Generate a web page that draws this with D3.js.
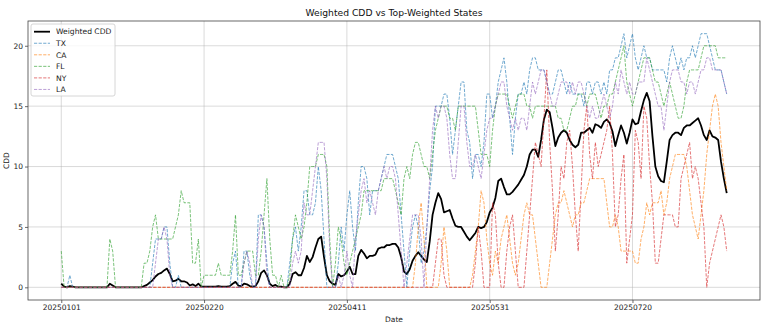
<!DOCTYPE html>
<html><head><meta charset="utf-8">
<script src="https://cdn.jsdelivr.net/npm/d3@7"></script>
<style>html,body{margin:0;padding:0;background:#fff;}svg{display:block;}</style>
</head><body>
<svg id="chart" width="772" height="325"></svg>
<script>
// ---- data ----
const startDate = "20250101";
const nDays = 234;
const tickLabels = ["20250101","20250220","20250411","20250531","20250720"];
const yTicks = [0,5,10,15,20];
const seriesNames = ["TX","CA","FL","NY","LA"];
const seriesColors = ["#1f77b4","#ff7f0e","#2ca02c","#d62728","#9467bd"];

const weighted = [0.3,0.05,0,0.1,0.05,0,0,0,0,0,0,0,0,0,0,0,0,0.3,0.15,0,
0,0,0,0,0,0,0,0,0,0.1,0.2,0.4,0.6,0.9,1.1,1.2,1.4,1.55,1.1,0.5,
0.55,0.7,0.5,0.5,0.4,0.15,0.25,0.1,0.3,0.05,0.05,0.05,0.05,0.05,0.05,0.1,0.05,0.05,0.05,0.1,
0.3,0.45,0.15,0.1,0.3,0.25,0.1,0.05,0.1,0.5,1.2,1.4,1.0,0.3,0.1,0.2,0.05,0.05,0,0,
0.3,1.1,1.25,1.0,1.0,1.6,2.6,2.1,2.5,3.3,4.0,4.2,2.5,1.0,0.5,0.3,0.2,1.1,0.9,1.0,
1.3,1.7,1.1,1.1,2.6,3.1,2.8,2.4,2.6,2.6,2.7,3.2,3.3,3.3,3.5,3.5,3.6,3.6,3.3,2.5,
1.3,1.1,1.5,2.2,2.6,2.9,2.6,2.3,2.1,3.8,6.0,7.0,7.8,7.3,6.2,6.3,6.4,5.7,5.1,5.0,
5.0,4.6,4.2,3.9,4.2,4.5,5.0,4.9,5.0,5.4,6.2,6.6,7.4,8.8,9.0,8.3,7.7,7.7,7.9,8.2,
8.5,8.9,9.3,10.0,11.0,11.4,11.4,10.8,12.2,13.9,14.7,14.5,13.2,11.7,12.4,12.8,13.0,12.8,12.2,11.8,
11.6,11.8,12.8,12.8,13.0,13.2,12.8,13.5,13.4,13.2,13.7,13.9,13.6,12.9,11.7,12.6,13.4,12.8,11.9,12.8,
13.9,13.5,13.6,14.6,15.5,16.1,15.4,12.5,10.0,9.2,8.8,8.7,10.4,12.2,12.6,12.8,12.8,12.6,13.2,13.4,
13.4,13.6,13.8,14.0,13.4,12.6,12.2,13.0,12.5,12.4,12.2,10.4,9.0,7.8];

const TX = [0,0,0,1,0,0,0,0,0,0,0,0,0,0,0,0,0,0,0,0,
0,0,0,0,0,0,0,0,0,0,0,0,2,4,4,4,5,5,2,0,
0,1,0,0,0,0,0,0,0,0,0,0,0,0,0,0,0,0,0,0,
2,3,0,0,3,3,1,0,0,6,6,5,2,0,0,0,0,0,0,0,
2,4,5,3,5,8,8,6,6,7,10,8,4,0,0,0,0,2,5,3,
6,8,5,3,7,10,10,9,6,8,8,8,9,10,11,11,11,10,9,6,
3,0,3,5,6,5,2,3,5,8,10,15,15,15,16,16,14,11,13,15,
17,17,13,12,9,11,11,10,12,16,16,14,15,17,18,19,17,14,11,14,
16,16,17,16,18,19,19,18,18,18,17,16,16,17,18,18,17,16,17,16,
16,16,16,15,17,17,16,17,17,16,17,16,18,18,19,19,20,21,19,20,
21,19,18,19,20,19,19,18,18,18,18,18,17,19,20,19,18,19,18,19,
19,20,19,20,21,21,21,20,19,18,18,18,17,16];

const CA = [0,0,0,0,0,0,0,0,0,0,0,0,0,0,0,0,0,0,0,0,
0,0,0,0,0,0,0,0,0,0,0,0,0,0,0,0,0,0,0,0,
0,0,0,0,0,0,0,0,0,0,0,0,0,0,0,0,0,0,0,0,
0,0,0,0,0,0,0,0,0,0,0,0,0,0,0,0,0,0,0,0,
0,0,0,0,0,0,0,0,0,0,0,0,0,0,0,0,0,0,0,0,
0,0,0,0,0,0,0,0,0,0,0,0,0,0,0,0,0,0,0,0,
0,0,0,0,2,5,7,4,0,0,0,0,0,2,5,3,0,0,0,0,
0,0,0,0,1,3,5,8,7,4,2,1,3,2,4,5,6,4,2,1,
2,4,6,7,6,6,4,2,0,0,0,2,4,6,7,7,8,7,6,5,
6,6,7,7,8,9,9,9,9,9,9,7,5,5,6,5,3,3,3,3,
3,2,2,4,5,7,6,7,7,7,8,6,7,9,10,11,11,11,11,10,
8,6,5,4,6,8,11,13,15,16,15,12,10,8];

const FL = [3,0,0,0,0,0,0,0,0,0,0,0,0,0,0,0,0,4,3,0,
0,0,0,0,0,0,0,0,0,2,2,3,5,6,4,4,4,4,4,4,
5,6,8,7,7,7,2,2,4,0,1,1,1,1,1,2,1,1,1,1,
3,6,1,1,2,3,3,3,1,1,3,6,9,4,1,1,0,1,0,0,
1,4,6,5,4,5,7,10,10,10,11,11,11,10,4,0,2,5,4,2,
1,2,3,4,5,6,8,8,8,8,8,8,8,9,9,9,9,8,7,6,
9,10,9,11,12,12,11,10,10,9,11,13,14,15,15,15,14,14,13,15,
15,15,15,15,15,15,13,11,11,11,10,13,15,16,16,16,16,15,14,15,
16,16,16,15,15,14,15,15,15,15,15,15,15,15,14,14,13,13,14,15,
15,16,16,16,15,16,16,16,15,14,15,15,16,16,17,18,19,20,17,16,
15,16,17,18,19,19,19,18,17,17,16,15,16,17,16,15,14,14,15,17,
18,18,18,18,19,20,20,20,20,20,19,19,19,19];

const NY = [0,0,0,0,0,0,0,0,0,0,0,0,0,0,0,0,0,0,0,0,
0,0,0,0,0,0,0,0,0,0,0,0,0,0,0,0,0,0,0,0,
0,0,0,0,0,0,0,0,0,0,0,0,0,0,0,0,0,0,0,0,
0,0,0,0,0,0,0,0,0,0,0,0,0,0,0,0,0,0,0,0,
0,0,0,0,0,0,0,0,0,0,0,0,0,0,0,0,0,0,0,0,
0,0,0,0,0,0,0,0,0,0,0,0,0,0,0,0,0,0,0,0,
0,0,0,0,0,0,0,0,0,0,0,2,4,4,1,0,0,0,0,0,
0,0,0,0,0,2,5,3,0,0,0,7,6,2,0,0,3,5,6,3,
0,0,0,3,6,9,12,11,10,14,18,12,8,3,6,10,9,12,13,10,
6,3,8,13,15,11,9,12,10,11,12,13,15,11,5,6,9,11,2,4,
6,13,12,9,15,14,10,7,2,2,4,6,6,6,6,5,5,9,10,11,
12,9,10,9,7,5,0,2,3,4,5,6,5,3];

const LA = [0,0,0,0,0,0,0,0,0,0,0,0,0,0,0,0,0,0,0,0,
0,0,0,0,0,0,0,0,0,0,0,0,0,2,4,4,5,4,1,0,
0,0,0,0,0,0,0,0,0,0,0,0,0,0,0,0,0,0,0,0,
0,0,0,0,2,3,2,0,0,4,6,5,1,0,0,0,0,0,0,0,
0,2,3,2,3,7,6,6,8,10,12,12,12,9,3,0,0,1,0,1,
3,1,0,4,6,8,9,7,8,7,6,8,9,10,9,10,10,9,6,3,
0,2,4,6,6,6,4,0,5,9,13,15,14,15,15,14,11,9,9,12,
15,15,12,10,10,11,10,9,11,13,14,14,15,16,17,17,15,14,13,14,
13,14,14,13,15,17,16,17,18,18,17,16,15,15,16,17,17,17,16,17,
16,17,17,16,15,14,15,14,14,15,16,15,14,15,17,16,18,17,16,17,
16,16,17,17,17,19,18,17,16,15,15,13,15,17,18,18,18,17,17,16,
17,17,16,17,18,18,19,19,18,18,18,18,17,16];

const stateData = [TX, CA, FL, NY, LA];

// ---- layout ----
const svg = d3.select("#chart");
const m = {left: 28, right: 760, top: 21, bottom: 300};
const parse = d3.timeParse("%Y%m%d");
const fmt = d3.timeFormat("%Y%m%d");
const dates = d3.timeDay.range(parse(startDate), d3.timeDay.offset(parse(startDate), nDays)).map(fmt);

const pad = (nDays - 1) * 0.05;
const x = d3.scaleLinear().domain([-pad, nDays - 1 + pad]).range([m.left, m.right]);
const yPad = 21 * 0.05;
const y = d3.scaleLinear().domain([-yPad, 21 + yPad]).range([m.bottom, m.top]);

const font = "DejaVu Sans, sans-serif";

// grid
const gGrid = svg.append("g");
const tickIdx = tickLabels.map(t => dates.indexOf(t));
gGrid.selectAll("line.vx").data(tickIdx).join("line")
  .attr("x1", d => x(d)).attr("x2", d => x(d))
  .attr("y1", m.top).attr("y2", m.bottom)
  .attr("stroke", "#b0b0b0").attr("stroke-opacity", 0.6).attr("stroke-width", 0.8);
gGrid.selectAll("line.hy").data(yTicks).join("line")
  .attr("x1", m.left).attr("x2", m.right)
  .attr("y1", d => y(d)).attr("y2", d => y(d))
  .attr("stroke", "#b0b0b0").attr("stroke-opacity", 0.6).attr("stroke-width", 0.8);

// lines
const line = d3.line().x((d, i) => x(i)).y(d => y(d));
svg.append("clipPath").attr("id", "clip").append("rect")
  .attr("x", m.left).attr("y", m.top).attr("width", m.right - m.left).attr("height", m.bottom - m.top);
const gLines = svg.append("g").attr("clip-path", "url(#clip)");
gLines.append("path").datum(weighted).attr("d", line)
  .attr("fill", "none").attr("stroke", "#000").attr("stroke-width", 1.8)
  .attr("stroke-linejoin", "round");
stateData.forEach((s, k) => {
  gLines.append("path").datum(s).attr("d", line)
    .attr("fill", "none").attr("stroke", seriesColors[k]).attr("stroke-width", 0.9)
    .attr("stroke-opacity", 0.7).attr("stroke-dasharray", "3.2,1.4");
});

// spines
svg.append("rect").attr("x", m.left).attr("y", m.top)
  .attr("width", m.right - m.left).attr("height", m.bottom - m.top)
  .attr("fill", "none").attr("stroke", "#444").attr("stroke-width", 0.8);

// axes
const xAxis = d3.axisBottom(x).tickValues(tickIdx).tickFormat((d, i) => tickLabels[i])
  .tickSize(3).tickPadding(2);
const gx = svg.append("g").attr("transform", `translate(0,${m.bottom})`).call(xAxis);
const yAxis = d3.axisLeft(y).tickValues(yTicks).tickSize(3).tickPadding(2);
const gy = svg.append("g").attr("transform", `translate(${m.left},0)`).call(yAxis);
[gx, gy].forEach(g => {
  g.select(".domain").remove();
  g.selectAll(".tick line").attr("stroke", "#444").attr("stroke-width", 0.8);
  g.selectAll(".tick text").attr("font-family", font).attr("font-size", 7.5).attr("fill", "#222");
});

// titles
svg.append("text").attr("x", (m.left + m.right) / 2).attr("y", 16)
  .attr("text-anchor", "middle").attr("font-family", font).attr("font-size", 9.2).attr("fill", "#111")
  .text("Weighted CDD vs Top-Weighted States");
svg.append("text").attr("x", (m.left + m.right) / 2).attr("y", 322)
  .attr("text-anchor", "middle").attr("font-family", font).attr("font-size", 7.5).attr("fill", "#222")
  .text("Date");
svg.append("text").attr("transform", `translate(9,${(m.top + m.bottom) / 2}) rotate(-90)`)
  .attr("text-anchor", "middle").attr("font-family", font).attr("font-size", 7.5).attr("fill", "#222")
  .text("CDD");

// legend
const legNames = ["Weighted CDD"].concat(seriesNames);
const legColors = ["#000"].concat(seriesColors);
const gL = svg.append("g").attr("transform", "translate(31,24)");
gL.append("rect").attr("width", 84).attr("height", 72).attr("rx", 2)
  .attr("fill", "#fff").attr("fill-opacity", 0.8).attr("stroke", "#ccc").attr("stroke-width", 0.8);
legNames.forEach((n, k) => {
  const yy = 7.7 + k * 11.55;
  gL.append("line").attr("x1", 3).attr("x2", 19).attr("y1", yy).attr("y2", yy)
    .attr("stroke", legColors[k]).attr("stroke-width", k === 0 ? 1.8 : 0.9)
    .attr("stroke-opacity", k === 0 ? 1 : 0.7)
    .attr("stroke-dasharray", k === 0 ? null : "3.2,1.4");
  gL.append("text").attr("x", 25).attr("y", yy + 2.7)
    .attr("font-family", font).attr("font-size", 7.6).attr("fill", "#222").text(n);
});
</script>
</body></html>
